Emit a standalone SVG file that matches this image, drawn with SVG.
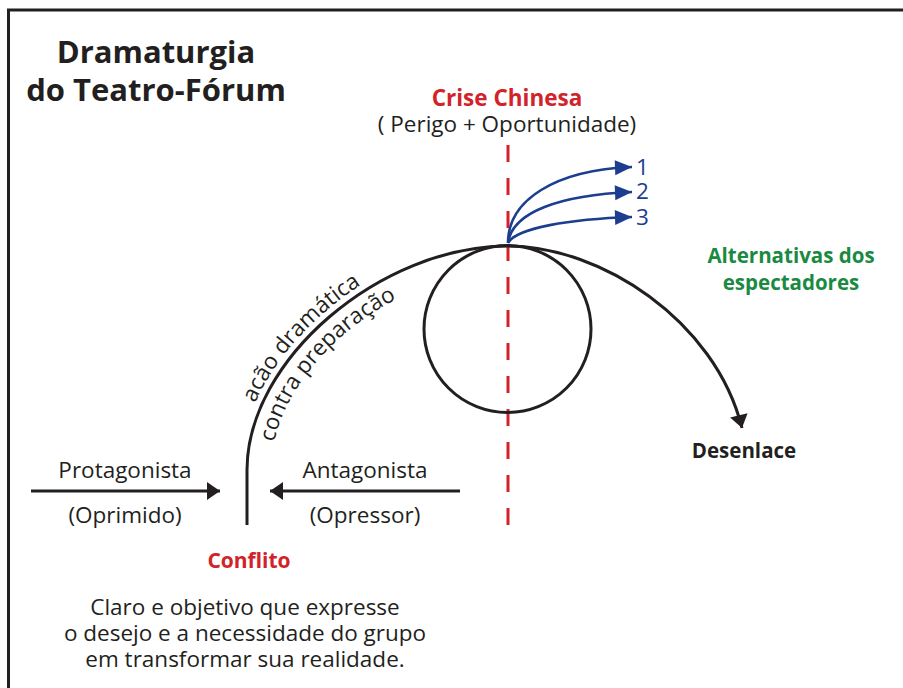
<svg xmlns="http://www.w3.org/2000/svg" width="903" height="688" viewBox="0 0 903 688">
<defs>
<style>
.t{font-family:"Open Sans","Liberation Sans",sans-serif;fill:#231f20;font-size:22.5px}
.b{font-family:"Open Sans","Liberation Sans",sans-serif;font-weight:bold}
.red{fill:#d2232a}
.grn{fill:#1a8a42}
.blu{fill:#1d3d8f}
.ln{fill:none;stroke:#231f20;stroke-width:3}
.bl{fill:none;stroke:#1d3d8f;stroke-width:2.6}
.mid{text-anchor:middle}
</style>
<marker id="ah" markerUnits="userSpaceOnUse" orient="auto" overflow="visible" markerWidth="20" markerHeight="20">
<path d="M0,0 L-13,-9 L-13,9 Z" fill="#231f20"/>
</marker>
<marker id="ahb" markerUnits="userSpaceOnUse" orient="auto" overflow="visible" markerWidth="20" markerHeight="20">
<path d="M0,0 L-17,-7.5 L-17,7.5 Z" fill="#1d3d8f"/>
</marker>
<path id="outer" d="M240,500 L240,470 C240,357 376.4,239 508,239"/>
<path id="inner" d="M271,500 L271,470 C271,370.5 392.3,270 508,270"/>
</defs>
<rect width="903" height="688" fill="#fff"/>
<path d="M8.5,688 L8.5,10 L903,10" fill="none" stroke="#231f20" stroke-width="3"/>

<g id="title">
<text class="b mid" x="156" y="63" font-size="31" fill="#231f20">Dramaturgia</text>
<text class="b mid" x="156" y="101" font-size="31" fill="#231f20">do Teatro-Fórum</text>
</g>

<g id="connectors">
<line x1="508" y1="145" x2="508" y2="525" stroke="#d2232a" stroke-width="3" stroke-dasharray="17 16"/>
<path class="ln" d="M247,525 L247,470 C247,360 380,246 508,246 C600,246 715,320 742,428" marker-end="url(#ah)"/>
<line class="ln" x1="31" y1="491" x2="220" y2="491" marker-end="url(#ah)"/>
<line class="ln" x1="460" y1="491" x2="270" y2="491" marker-end="url(#ah)"/>
<path class="bl" d="M508,243 C508,200 555,170 632,167" marker-end="url(#ahb)"/>
<path class="bl" d="M508,243 C512,212 560,195 632,192" marker-end="url(#ahb)"/>
<path class="bl" d="M508,243 C516,228 570,219 632,217" marker-end="url(#ahb)"/>
</g>

<g id="circulo">
<circle class="ln" cx="507.5" cy="329" r="83.5"/>
</g>

<g id="acao">
<text class="t"><textPath href="#outer" startOffset="99">acão dramática</textPath></text>
<text class="t"><textPath href="#inner" startOffset="58">contra preparação</textPath></text>
</g>

<g id="crise">
<text class="b mid red" x="507" y="106" font-size="22.5">Crise Chinesa</text>
<text class="t mid" x="507" y="132">( Perigo + Oportunidade)</text>
</g>

<g id="alternativas-numeros">
<text class="t blu" x="636" y="175" font-size="20" style="fill:#1d3d8f">1</text>
<text class="t blu" x="636" y="199" font-size="20" style="fill:#1d3d8f">2</text>
<text class="t blu" x="636" y="225" font-size="20" style="fill:#1d3d8f">3</text>
</g>

<g id="alternativas">
<text class="b mid grn" x="791" y="263" font-size="20.5">Alternativas dos</text>
<text class="b mid grn" x="791" y="290" font-size="20.5">espectadores</text>
</g>

<g id="desenlace">
<text class="b mid" x="744" y="458" font-size="20.5" fill="#231f20">Desenlace</text>
</g>

<g id="protagonista">
<text class="t mid" x="125" y="478">Protagonista</text>
<text class="t mid" x="125" y="523">(Oprimido)</text>
</g>

<g id="antagonista">
<text class="t mid" x="365" y="478">Antagonista</text>
<text class="t mid" x="365" y="523">(Opressor)</text>
</g>

<g id="conflito">
<text class="b mid red" x="249" y="568" font-size="21">Conflito</text>
<text class="t mid" x="245" y="615">Claro e objetivo que expresse</text>
<text class="t mid" x="245" y="641">o desejo e a necessidade do grupo</text>
<text class="t mid" x="245" y="667">em transformar sua realidade.</text>
</g>
</svg>
